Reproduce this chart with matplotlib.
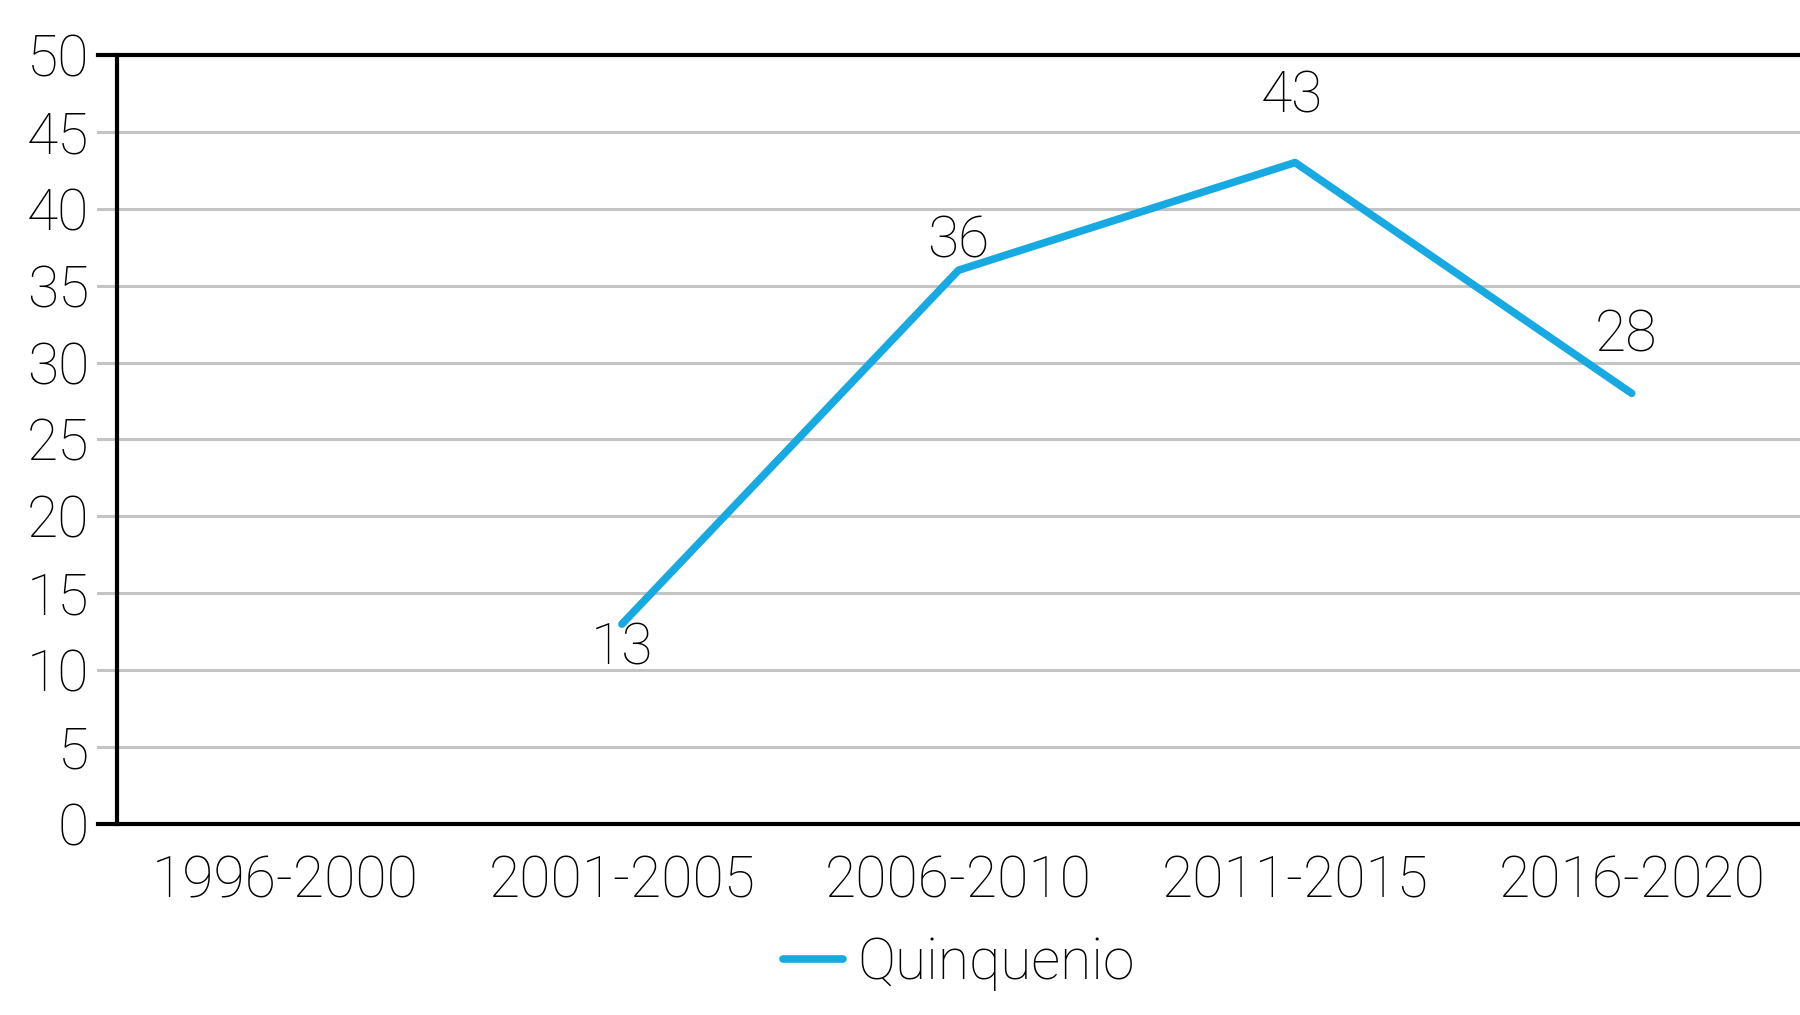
import matplotlib
matplotlib.use("Agg")
import matplotlib.pyplot as plt

periods = ["1996-2000", "2001-2005", "2006-2010", "2011-2015", "2016-2020"]
values = [None, 13, 36, 43, 28]
series_name = "Quinquenio"
y_ticks = [0, 5, 10, 15, 20, 25, 30, 35, 40, 45, 50]

# label offsets in points (dx, dy), one per plotted value
label_offsets = [(0, -18), (0, 20), (-2, 47), (-4, 41)]

plt.rcParams["font.family"] = ["Roboto", "DejaVu Sans"]
plt.rcParams["font.weight"] = "light"
plt.rcParams["text.color"] = "black"

FS = 41

fig = plt.figure(figsize=(18, 10.15), dpi=100)
ax = fig.add_axes([0.065, 0.188, 0.935, 0.758])

x = list(range(len(periods)))
xs = [i for i, v in zip(x, values) if v is not None]
ys = [v for v in values if v is not None]

ax.set_xlim(-0.5, len(periods) - 0.5)
ax.set_ylim(0, 50)

# grid lines, extended a bit past the left spine like ticks
ext = -19 / 1683
for t in y_ticks:
    if t in (0, 50):
        ax.axhline(t, xmin=ext, xmax=1, color="black", lw=3.0, clip_on=False, zorder=3)
    else:
        ax.axhline(t, xmin=ext, xmax=1, color="#c4c4c4", lw=2.2, clip_on=False, zorder=1)

line, = ax.plot(xs, ys, color="#17a9e1", lw=5.5, solid_capstyle="round", zorder=4, label=series_name)

# data labels
for xi, yi, off in zip(xs, ys, label_offsets):
    ax.annotate(str(yi), (xi, yi), xytext=off, textcoords="offset points",
                ha="center", va="center", fontsize=FS, color="black")

for s in ["top", "right", "bottom"]:
    ax.spines[s].set_visible(False)
ax.spines["left"].set_linewidth(3.0)
ax.spines["left"].set_color("black")

ax.set_yticks(y_ticks)
ax.set_xticks(x)
ax.set_xticklabels(periods)
ax.tick_params(axis="both", length=0, labelsize=FS, labelcolor="black")
ax.tick_params(axis="y", pad=20)
ax.tick_params(axis="x", pad=22)

# legend centred under the plot area
fig.legend(handles=[line], loc="center", bbox_to_anchor=(0.5325, 0.051), frameon=False,
           fontsize=FS, handlelength=1.05, handletextpad=0.25)

fig.savefig("out.png", dpi=100)
